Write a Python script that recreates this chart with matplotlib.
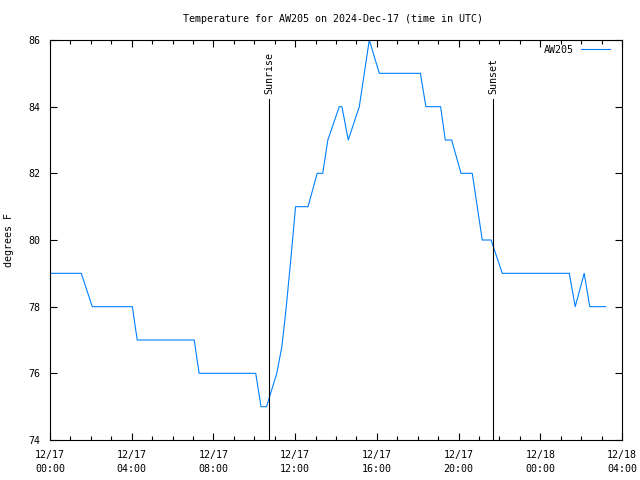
import matplotlib
matplotlib.use("Agg")
import matplotlib.pyplot as plt
from matplotlib.ticker import MultipleLocator

# Data: hours since 2024-12-17 00:00 UTC, temperature in degrees F
hours = [0, 1.53, 2.07, 4.03, 4.27, 7.06, 7.3, 10.07, 10.33, 10.6, 11.1, 11.35, 11.55,
         11.8, 12.02, 12.63, 13.08, 13.35, 13.6, 14.16, 14.29, 14.6, 15.14, 15.63, 16.12,
         18.13, 18.4, 19.12, 19.35, 19.66, 20.12, 20.67, 21.16, 21.59, 22.14, 25.42,
         25.71, 26.15, 26.42, 27.2]
temps = [79, 79, 78, 78, 77, 77, 76, 76, 75, 75, 76, 76.8, 77.9,
         79.5, 81, 81, 82, 82, 83, 84, 84, 83, 84, 86, 85,
         85, 84, 84, 83, 83, 82, 82, 80, 80, 79, 79,
         78, 79, 78, 78]
sunrise_hour = 10.74
sunset_hour = 21.7
xtick_hours = [0, 4, 8, 12, 16, 20, 24, 28]
xtick_labels = ["12/17\n00:00", "12/17\n04:00", "12/17\n08:00", "12/17\n12:00",
                "12/17\n16:00", "12/17\n20:00", "12/18\n00:00", "12/18\n04:00"]
yticks = [74, 76, 78, 80, 82, 84, 86]

plt.rcParams['font.family'] = ['DejaVu Sans Mono']
plt.rcParams['font.size'] = 7.2

fig = plt.figure(figsize=(6.4, 4.8), dpi=100)
ax = fig.add_axes([50/640, 40/480, (622-50)/640, 400/480])

ax.plot(hours, temps, color='#0080ff', lw=0.8, label='AW205')
ax.set_xlim(0, 28)
ax.set_ylim(74, 86)

ymax_line = 86 - (99-40)/400*12
for h, name in [(sunrise_hour, 'Sunrise'), (sunset_hour, 'Sunset')]:
    ax.plot([h, h], [74, ymax_line], color='black', lw=0.8)
    ax.text(h, ymax_line + 0.15, name, rotation=90, ha='center', va='bottom')

ax.set_xticks(xtick_hours)
ax.set_xticklabels(xtick_labels, linespacing=1.5)
ax.xaxis.set_minor_locator(MultipleLocator(1))
ax.set_yticks(yticks)
ax.tick_params(which='both', direction='in', top=True, right=True, width=0.8)
ax.tick_params(which='major', length=5, pad=7)
ax.tick_params(which='minor', length=3)
for s in ax.spines.values():
    s.set_linewidth(0.8)

ax.set_ylabel('degrees F', labelpad=10)
fig.text(333/640, 1 - 19/480, 'Temperature for AW205 on 2024-Dec-17 (time in UTC)',
         ha='center', va='center')

leg = ax.legend(loc='upper right', frameon=False, markerfirst=False,
                handlelength=2.9, handletextpad=0.7, borderpad=0, borderaxespad=0,
                bbox_to_anchor=(0.979, 0.988))

fig.savefig('out.png', dpi=100)
